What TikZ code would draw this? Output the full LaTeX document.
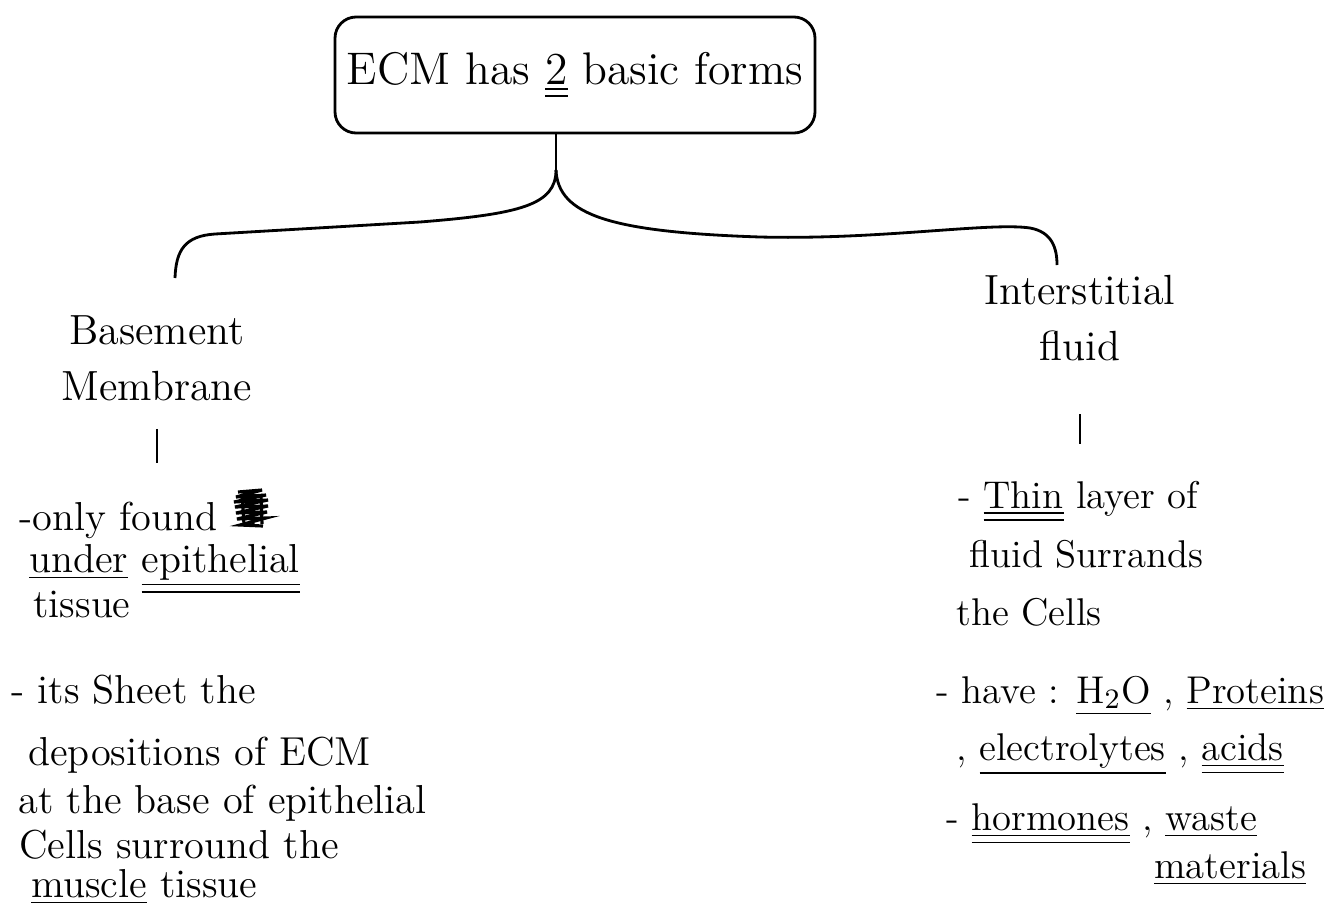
\documentclass[tikz,border=0pt]{standalone}
\usetikzlibrary{positioning}
\newcommand{\dul}[1]{\underline{\underline{#1}}}

\begin{document}
\begin{tikzpicture}[x=0.1mm,y=-0.1mm,thick,
    topbox/.style={draw,rounded corners=6pt,minimum width=4.8cm,minimum height=1.16cm,font=\fontsize{13}{15}\selectfont},
    heading/.style={align=center,font=\fontsize{12}{16}\selectfont},
    noteline/.style={anchor=base west,inner sep=0pt,font=\fontsize{11.5}{14}\selectfont},
    rightline/.style={noteline,font=\fontsize{11}{14}\selectfont}]
    \useasboundingbox (0,0) rectangle (1339,917);
    \node[topbox] (ecm) at (575,75) {ECM has \dul{2} basic forms};
    \node[heading] (bm) at (157,358) {Basement\\Membrane};
    \node[heading] (isf) at (1080,318) {Interstitial\\fluid};
    % brace from the box to both forms
    \coordinate (split) at (556,170);
    \coordinate (lend) at (175,278);
    \coordinate (rend) at (1057,265);
    \draw (split |- ecm.south) -- (split);
    \draw (split) .. controls (556,205) and (520,214) .. (420,222) -- (215,234) .. controls (185,236) and (176,250) .. (lend);
    \draw (split) .. controls (558,215) and (610,232) .. (760,237) .. controls (880,240) and (990,222) .. (1030,228) .. controls (1052,232) and (1057,248) .. (rend);
    \path (bm.south) ++(0,15) coordinate (bmtick);
    \path (isf.south) ++(0,40) coordinate (isftick);
    \draw (bmtick) -- ++(0,34);
    \draw (isftick) -- ++(0,30);
    % basement membrane notes
    \node[noteline] (l1) at (18,530) {-only found};
    \draw[line width=0.9pt] (238,492) -- (262,490) -- (236,497) -- (266,495) -- (234,502) -- (268,500) -- (235,507) -- (268,506) -- (236,513) -- (267,512) -- (237,519) -- (266,518) -- (240,525) -- (263,526);
    \draw[line width=0.9pt] (242,495) -- (244,524) (252,493) -- (253,526) (261,494) -- (262,524);
    \node[noteline] (l2) at (28,572) {\underline{under} \dul{epithelial}};
    \node[noteline] (l3) at (32,617) {tissue};
    \node[noteline] (l4) at (10,703) {- its Sheet the};
    \node[noteline] (l5) at (27,765) {depositions of ECM};
    \node[noteline] (l6) at (17,813) {at the base of epithelial};
    \node[noteline] (l7) at (18,858) {Cells surround the};
    \node[noteline] (l8) at (30,897) {\underline{muscle} tissue};
    % interstitial fluid notes
    \node[rightline] (r1) at (957,508) {- \dul{Thin} layer of};
    \node[rightline] (r2) at (968,567) {fluid Surrands};
    \node[rightline] (r3) at (955,625) {the Cells};
    \node[rightline] (r4) at (935,703) {- have : \underline{H$_2$O} , \underline{Proteins}};
    \node[rightline] (r5) at (955,760) {, \underline{electrolytes} , \dul{acids}};
    \node[rightline] (r6) at (945,830) {- \dul{hormones} , \underline{waste}};
    \node[rightline] (r7) at (1153,878) {\underline{materials}};
\end{tikzpicture}
\end{document}
